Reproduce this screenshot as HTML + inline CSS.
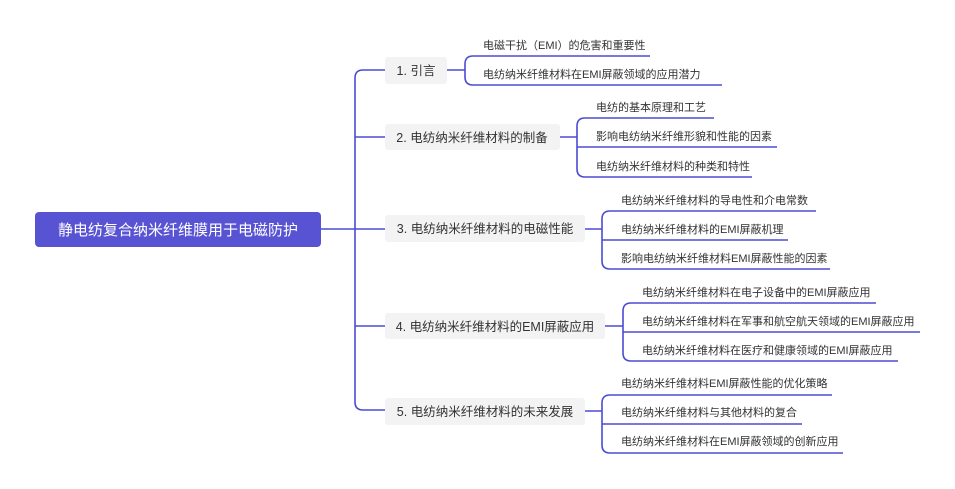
<!DOCTYPE html>
<html><head><meta charset="utf-8"><style>
body{margin:0;background:#fff;}
svg{display:block}
text{font-family:"Liberation Sans","Noto Sans CJK SC",sans-serif;fill:#333;}
</style></head><body>
<svg width="955" height="489" viewBox="0 0 955 489" xmlns="http://www.w3.org/2000/svg">
<g fill="none" stroke="#4b4bd3" stroke-width="1.6">
<!-- root to trunk -->
<path d="M321 229 H355"/>
<path d="M385 70 H363 Q355 70 355 78 V402 Q355 410 363 410 H385"/>
<path d="M355 137 H385 M355 229 H385 M355 326 H385"/>
<!-- group1 -->
<path d="M447 70 H465"/>
<path d="M473 56 Q465 56 465 64 V77 Q465 85 473 85 H722 M473 56 H650"/>
<!-- group2 -->
<path d="M560 137 H577"/>
<path d="M585 118 Q577 118 577 126 V169 Q577 177 585 177 H752 M585 118 H714 M577 147 H777"/>
<!-- group3 -->
<path d="M585 229 H602"/>
<path d="M610 211 Q602 211 602 219 V261 Q602 269 610 269 H830 M610 211 H816 M602 240 H788"/>
<!-- group4 -->
<path d="M605 326 H623"/>
<path d="M631 303 Q623 303 623 311 V353 Q623 361 631 361 H898 M631 303 H876 M623 332 H920"/>
<!-- group5 -->
<path d="M585 411 H602"/>
<path d="M610 395 Q602 395 602 403 V445 Q602 453 610 453 H843 M610 395 H832 M602 424 H802"/>
</g>
<!-- root -->
<rect x="35" y="212" width="286" height="35" rx="4" fill="#5853d2"/>
<text x="178" y="235" text-anchor="middle" font-size="15" style="fill:#fff">静电纺复合纳米纤维膜用于电磁防护</text>
<!-- branches -->
<g font-size="12.5">
<rect x="385" y="57" width="62" height="27" rx="3" fill="#f3f3f3"/>
<text x="416" y="75" text-anchor="middle">1. 引言</text>
<rect x="385" y="124" width="175" height="26" rx="3" fill="#f3f3f3"/>
<text x="472" y="142" text-anchor="middle">2. 电纺纳米纤维材料的制备</text>
<rect x="385" y="215" width="200" height="27" rx="3" fill="#f3f3f3"/>
<text x="485" y="233" text-anchor="middle">3. 电纺纳米纤维材料的电磁性能</text>
<rect x="385" y="313" width="220" height="26" rx="3" fill="#f3f3f3"/>
<text x="495" y="331" text-anchor="middle">4. 电纺纳米纤维材料的EMI屏蔽应用</text>
<rect x="385" y="398" width="200" height="27" rx="3" fill="#f3f3f3"/>
<text x="485" y="416" text-anchor="middle">5. 电纺纳米纤维材料的未来发展</text>
</g>
<g font-size="11">
<text x="483" y="49">电磁干扰（EMI）的危害和重要性</text>
<text x="483" y="78">电纺纳米纤维材料在EMI屏蔽领域的应用潜力</text>
<text x="596" y="111">电纺的基本原理和工艺</text>
<text x="596" y="140">影响电纺纳米纤维形貌和性能的因素</text>
<text x="596" y="170">电纺纳米纤维材料的种类和特性</text>
<text x="621" y="204">电纺纳米纤维材料的导电性和介电常数</text>
<text x="621" y="233">电纺纳米纤维材料的EMI屏蔽机理</text>
<text x="621" y="262">影响电纺纳米纤维材料EMI屏蔽性能的因素</text>
<text x="642" y="296">电纺纳米纤维材料在电子设备中的EMI屏蔽应用</text>
<text x="642" y="325">电纺纳米纤维材料在军事和航空航天领域的EMI屏蔽应用</text>
<text x="642" y="354">电纺纳米纤维材料在医疗和健康领域的EMI屏蔽应用</text>
<text x="621" y="387">电纺纳米纤维材料EMI屏蔽性能的优化策略</text>
<text x="621" y="416">电纺纳米纤维材料与其他材料的复合</text>
<text x="621" y="445">电纺纳米纤维材料在EMI屏蔽领域的创新应用</text>
</g>
</svg>
</body></html>
